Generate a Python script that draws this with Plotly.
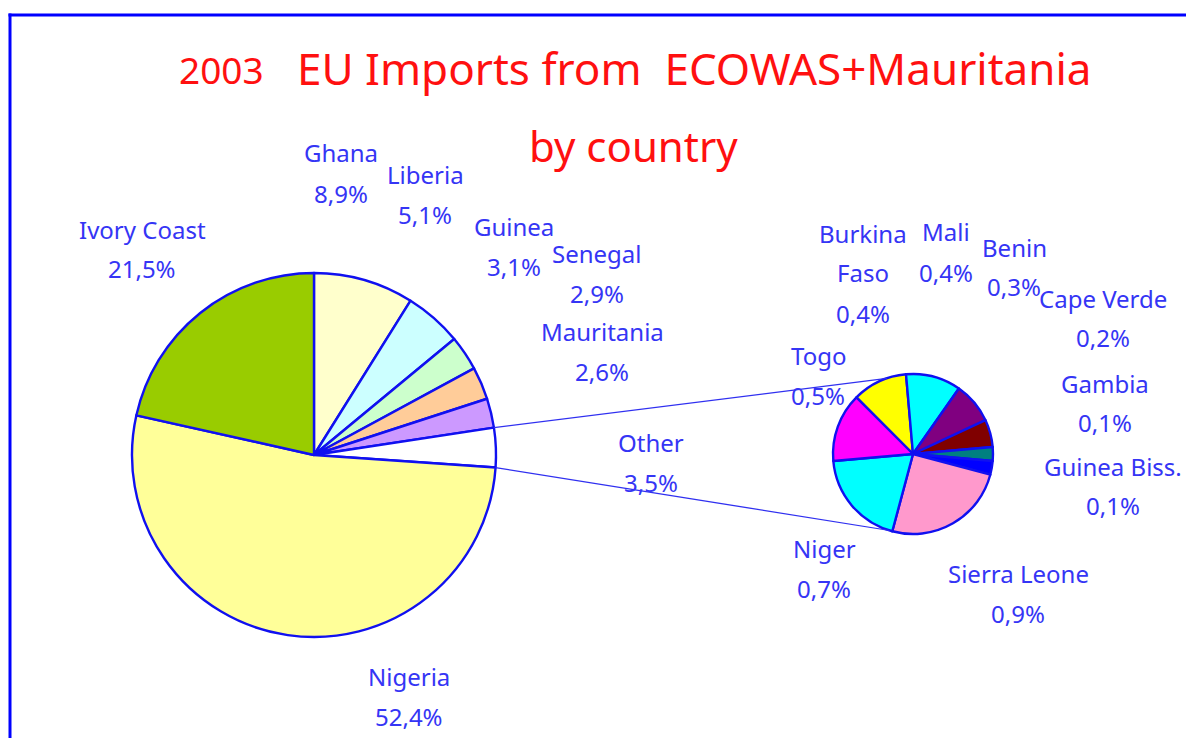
import math
import plotly.graph_objects as go

# ---------------- data ----------------
main_labels = ["Ghana", "Liberia", "Guinea", "Senegal", "Mauritania", "Other", "Nigeria", "Ivory Coast"]
main_values = [8.9, 5.1, 3.1, 2.9, 2.6, 3.5, 52.4, 21.5]

other_labels = ["Burkina Faso", "Mali", "Benin", "Cape Verde", "Gambia", "Guinea Biss.",
                "Sierra Leone", "Niger", "Togo"]
other_values = [0.4, 0.4, 0.3, 0.2, 0.1, 0.1, 0.9, 0.7, 0.5]

title_year = "2003"
title_main = "EU Imports from  ECOWAS+Mauritania"
title_sub = "by country"

# ---------------- styles / layout ----------------
W, H = 1186, 738
PAGE_OFF = 0  # body margin removed via post_script
main_colors = ["#FFFFCC", "#CCFFFF", "#CCFFCC", "#FFCC99", "#CC99FF", "#FFFFFF", "#FFFF99", "#99CC00"]
other_colors = ["#FFFF00", "#00FFFF", "#800080", "#800000", "#008080", "#0000FF",
                "#FF99CC", "#00FFFF", "#FF00FF"]
EDGE = "#1010F0"
TXT = "#3535F5"
FONT = "Comic Sans MS, Noto Sans, sans-serif"

main_c, main_r = (314, 455), 182
small_c, small_r = (913, 454), 80

# label anchor (center x, first-line center y) in pixels
label_pos = {
    "Ghana": (341, 153), "Liberia": (425, 174), "Guinea": (514, 226), "Senegal": (597, 253),
    "Mauritania": (602, 331), "Other": (651, 442), "Nigeria": (409, 676), "Ivory Coast": (142, 229),
    "Burkina Faso": (863, 233), "Mali": (946, 232), "Benin": (1014, 247), "Cape Verde": (1103, 298),
    "Gambia": (1105, 383), "Guinea Biss.": (1113, 466), "Sierra Leone": (1018, 573),
    "Niger": (824, 548), "Togo": (818, 355),
}
name_lines = {"Burkina Faso": ["Burkina", "Faso"]}
LINE_STEP = 40


def px(x):
    return (x - PAGE_OFF) / W


def py(y):
    return 1 - (y - PAGE_OFF) / H


def domain(c, r):
    return dict(x=[px(c[0] - r), px(c[0] + r)], y=[py(c[1] + r), py(c[1] - r)])


fig = go.Figure()
fig.add_trace(go.Pie(
    labels=main_labels, values=main_values, sort=False, direction="clockwise", rotation=0,
    marker=dict(colors=main_colors, line=dict(color=EDGE, width=2.4)),
    textinfo="none", hoverinfo="label+percent", domain=domain(main_c, main_r),
    showlegend=False,
))
fig.add_trace(go.Pie(
    labels=other_labels, values=other_values, sort=False, direction="clockwise", rotation=-45,
    marker=dict(colors=other_colors, line=dict(color=EDGE, width=2.4)),
    textinfo="none", hoverinfo="label+value", domain=domain(small_c, small_r),
    showlegend=False,
))

annotations = []


def add_label(name, value):
    x, y = label_pos[name]
    lines = name_lines.get(name, [name]) + [f"{value:.1f}".replace(".", ",") + "%"]
    for i, t in enumerate(lines):
        annotations.append(dict(
            text=t, x=px(x), y=py(y + i * LINE_STEP), xref="paper", yref="paper",
            xanchor="center", yanchor="middle", showarrow=False,
            font=dict(family=FONT, size=24, color=TXT)))


for n, v in zip(main_labels, main_values):
    add_label(n, v)
for n, v in zip(other_labels, other_values):
    add_label(n, v)

annotations.append(dict(text=title_year, x=px(221), y=py(70), xref="paper", yref="paper",
                        xanchor="center", yanchor="middle", showarrow=False,
                        font=dict(family=FONT, size=37, color="#FF1010")))
annotations.append(dict(text=title_main, x=px(694), y=py(68), xref="paper", yref="paper",
                        xanchor="center", yanchor="middle", showarrow=False,
                        font=dict(family=FONT, size=44, color="#FF1010")))
annotations.append(dict(text=title_sub, x=px(633), y=py(145), xref="paper", yref="paper",
                        xanchor="center", yanchor="middle", showarrow=False,
                        font=dict(family=FONT, size=42, color="#FF1010")))

# connector lines from the "Other" slice edges to the secondary pie
tot = sum(main_values)
idx = main_labels.index("Other")
a0 = sum(main_values[:idx]) / tot * 2 * math.pi
a1 = sum(main_values[:idx + 1]) / tot * 2 * math.pi
small_angles = [math.radians(341), math.radians(197)]
shapes = []
for a, b in zip([a0, a1], small_angles):
    x0 = main_c[0] + main_r * math.sin(a)
    y0 = main_c[1] - main_r * math.cos(a)
    x1 = small_c[0] + small_r * math.sin(b)
    y1 = small_c[1] - small_r * math.cos(b)
    shapes.append(dict(type="line", xref="paper", yref="paper", x0=px(x0), y0=py(y0),
                       x1=px(x1), y1=py(y1), line=dict(color="#3030F0", width=1.2)))

# frame (only top and left edges are visible in the picture)
frame = dict(color="#0000FF", width=3)
shapes.append(dict(type="line", xref="paper", yref="paper", x0=px(8.5), y0=py(15),
                   x1=px(W + 20), y1=py(15), line=frame))
shapes.append(dict(type="line", xref="paper", yref="paper", x0=px(10), y0=py(13.5),
                   x1=px(10), y1=py(H + 20), line=frame))

fig.update_layout(
    width=W, height=H, margin=dict(l=0, r=0, t=0, b=0),
    paper_bgcolor="white", plot_bgcolor="white",
    annotations=annotations, shapes=shapes, showlegend=False,
)

fig.write_html("out.html", config={"displayModeBar": False},
               post_script="document.body.style.margin='0';document.body.style.overflow='hidden';")
